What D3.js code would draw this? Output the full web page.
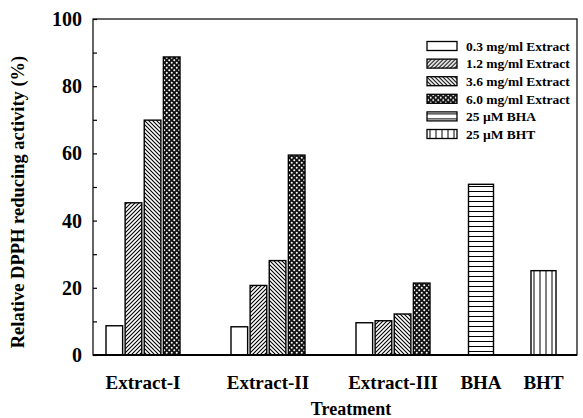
<!DOCTYPE html>
<html>
<head>
<meta charset="utf-8">
<script src="https://cdn.jsdelivr.net/npm/d3@7"></script>
<style>
    body { margin: 0; background: #fff; }
    text { font-family: "Liberation Serif", "Times New Roman", serif; font-weight: bold; fill: #000; }
</style>
</head>
<body>
<div id="chart"></div>
<script>
// data
const treatments = ["Extract-I", "Extract-II", "Extract-III", "BHA", "BHT"];
const concentrations = ["0.3 mg/ml Extract", "1.2 mg/ml Extract", "3.6 mg/ml Extract", "6.0 mg/ml Extract"];
const extractValues = [
    [8.7, 45.3, 69.9, 88.7],   // Extract-I
    [8.4, 20.7, 28.1, 59.5],   // Extract-II
    [9.6, 10.2, 12.2, 21.4]    // Extract-III
];
const standards = ["25 µM BHA", "25 µM BHT"];
const standardValues = [50.8, 25.1];
const yTicks = [0, 20, 40, 60, 80, 100];

class DpphChart {

    constructor(parentElement) {
        this.parentElement = parentElement
        this.initVis()
    }

    initVis() {
        let vis = this;

        vis.margin = { top: 19, right: 4, bottom: 63, left: 93 };
        vis.width = 583 - vis.margin.left - vis.margin.right;
        vis.height = 418 - vis.margin.top - vis.margin.bottom;

        vis.root = d3.select("#" + vis.parentElement).append("svg")
            .attr("width", 583)
            .attr("height", 418);

        vis.makePatterns();

        vis.svg = vis.root.append("g")
            .attr("transform", "translate(" + vis.margin.left + "," + vis.margin.top + ")");

        // scales
        vis.y = d3.scaleLinear().domain([0, 100]).range([vis.height, 0]);
        vis.x = d3.scaleOrdinal().domain(treatments).range([50, 175, 300, 388, 450.5]);
        vis.x1 = d3.scaleBand().domain(concentrations).range([-37, 37]).paddingInner(0.13);

        vis.fills = ["#fff", "url(#p12)", "url(#p36)", "url(#p60)"];
        vis.stdFills = ["url(#pbha)", "url(#pbht)"];

        // extract bars
        let groups = vis.svg.selectAll(".group")
            .data(extractValues)
            .enter().append("g")
            .attr("transform", (d, i) => "translate(" + vis.x(treatments[i]) + ",0)");

        groups.selectAll("rect")
            .data(d => d.map((v, j) => ({ key: concentrations[j], value: v, j: j })))
            .enter().append("rect")
            .attr("x", d => vis.x1(d.key))
            .attr("width", vis.x1.bandwidth())
            .attr("y", d => vis.y(d.value))
            .attr("height", d => vis.y(0) - vis.y(d.value))
            .attr("fill", d => vis.fills[d.j])
            .attr("stroke", "#000")
            .attr("stroke-width", 1.4);

        // BHA / BHT bars
        vis.svg.selectAll(".std")
            .data(standardValues)
            .enter().append("rect")
            .attr("x", (d, i) => vis.x(treatments[i + 3]) - 12.5)
            .attr("width", 25)
            .attr("y", d => vis.y(d))
            .attr("height", d => vis.y(0) - vis.y(d))
            .attr("fill", (d, i) => vis.stdFills[i])
            .attr("stroke", "#000")
            .attr("stroke-width", 1.4);

        // frame
        vis.svg.append("rect")
            .attr("width", vis.width - 2)
            .attr("height", vis.height)
            .attr("fill", "none")
            .attr("stroke", "#000")
            .attr("stroke-width", 1.2);
        vis.svg.append("line")
            .attr("x1", 0).attr("x2", vis.width - 2)
            .attr("y1", vis.height).attr("y2", vis.height)
            .attr("stroke", "#000").attr("stroke-width", 2);

        // y axis, ticks inside
        let yAxis = vis.svg.append("g")
            .call(d3.axisRight(vis.y).tickValues(d3.range(0, 101, 10)).tickSize(4).tickFormat(""));
        yAxis.select(".domain").remove();
        yAxis.selectAll("line").attr("stroke-width", 1.2);

        vis.svg.selectAll(".ylab")
            .data(yTicks)
            .enter().append("text")
            .attr("x", -11)
            .attr("y", d => vis.y(d))
            .attr("dy", "0.35em")
            .attr("text-anchor", "end")
            .style("font-size", "20px")
            .text(d => d);

        // x labels
        vis.svg.selectAll(".xlab")
            .data(treatments)
            .enter().append("text")
            .attr("x", d => vis.x(d))
            .attr("y", vis.height + 34)
            .attr("text-anchor", "middle")
            .style("font-size", "19px")
            .text(d => d);

        vis.svg.append("text")
            .attr("x", 258)
            .attr("y", vis.height + 60)
            .attr("text-anchor", "middle")
            .style("font-size", "18px")
            .text("Treatment");

        vis.svg.append("text")
            .attr("transform", "translate(-69," + (vis.height / 2 + 15) + ") rotate(-90)")
            .attr("text-anchor", "middle")
            .style("font-size", "18.5px")
            .text("Relative DPPH reducing activity (%)");

        // legend
        let legendItems = concentrations.map((c, i) => ({ label: c, fill: vis.fills[i] }))
            .concat(standards.map((s, i) => ({ label: s, fill: vis.stdFills[i] })));

        let legend = vis.svg.selectAll(".legend")
            .data(legendItems)
            .enter().append("g")
            .attr("transform", (d, i) => "translate(334," + (27 + i * 17.6) + ")");

        legend.append("rect")
            .attr("width", 30)
            .attr("height", 9)
            .attr("y", -4.5)
            .attr("fill", d => d.fill)
            .attr("stroke", "#000")
            .attr("stroke-width", 1.3);

        legend.append("text")
            .attr("x", 39)
            .attr("dy", "0.35em")
            .style("font-size", "13.5px")
            .text(d => d.label);
    }

    makePatterns() {
        let vis = this;
        let defs = vis.root.append("defs");

        // 1.2 mg/ml: forward diagonal
        let p = defs.append("pattern").attr("id", "p12")
            .attr("patternUnits", "userSpaceOnUse").attr("width", 4).attr("height", 4);
        p.append("rect").attr("width", 4).attr("height", 4).attr("fill", "#fff");
        p.append("path").attr("d", "M-1,1 l2,-2 M0,4 l4,-4 M3,5 l2,-2")
            .attr("stroke", "#000").attr("stroke-width", 1.1);

        // 3.6 mg/ml: back diagonal
        p = defs.append("pattern").attr("id", "p36")
            .attr("patternUnits", "userSpaceOnUse").attr("width", 4).attr("height", 4);
        p.append("rect").attr("width", 4).attr("height", 4).attr("fill", "#fff");
        p.append("path").attr("d", "M-1,3 l2,2 M0,0 l4,4 M3,-1 l2,2")
            .attr("stroke", "#000").attr("stroke-width", 1.1);

        // 6.0 mg/ml: dark crosshatch with white dots
        p = defs.append("pattern").attr("id", "p60")
            .attr("patternUnits", "userSpaceOnUse").attr("width", 5).attr("height", 5);
        p.append("rect").attr("width", 5).attr("height", 5).attr("fill", "#111");
        p.append("circle").attr("cx", 1.25).attr("cy", 1.25).attr("r", 1).attr("fill", "#fff");
        p.append("circle").attr("cx", 3.75).attr("cy", 3.75).attr("r", 1).attr("fill", "#fff");

        // BHA: horizontal lines
        p = defs.append("pattern").attr("id", "pbha")
            .attr("patternUnits", "userSpaceOnUse").attr("width", 5).attr("height", 5);
        p.append("rect").attr("width", 5).attr("height", 5).attr("fill", "#fff");
        p.append("line").attr("x1", 0).attr("x2", 5).attr("y1", 2.5).attr("y2", 2.5)
            .attr("stroke", "#000").attr("stroke-width", 1);

        // BHT: vertical lines
        p = defs.append("pattern").attr("id", "pbht")
            .attr("patternUnits", "userSpaceOnUse").attr("width", 6).attr("height", 6);
        p.append("rect").attr("width", 6).attr("height", 6).attr("fill", "#fff");
        p.append("line").attr("x1", 3).attr("x2", 3).attr("y1", 0).attr("y2", 6)
            .attr("stroke", "#000").attr("stroke-width", 1);
    }
}

new DpphChart("chart");
</script>
</body>
</html>
